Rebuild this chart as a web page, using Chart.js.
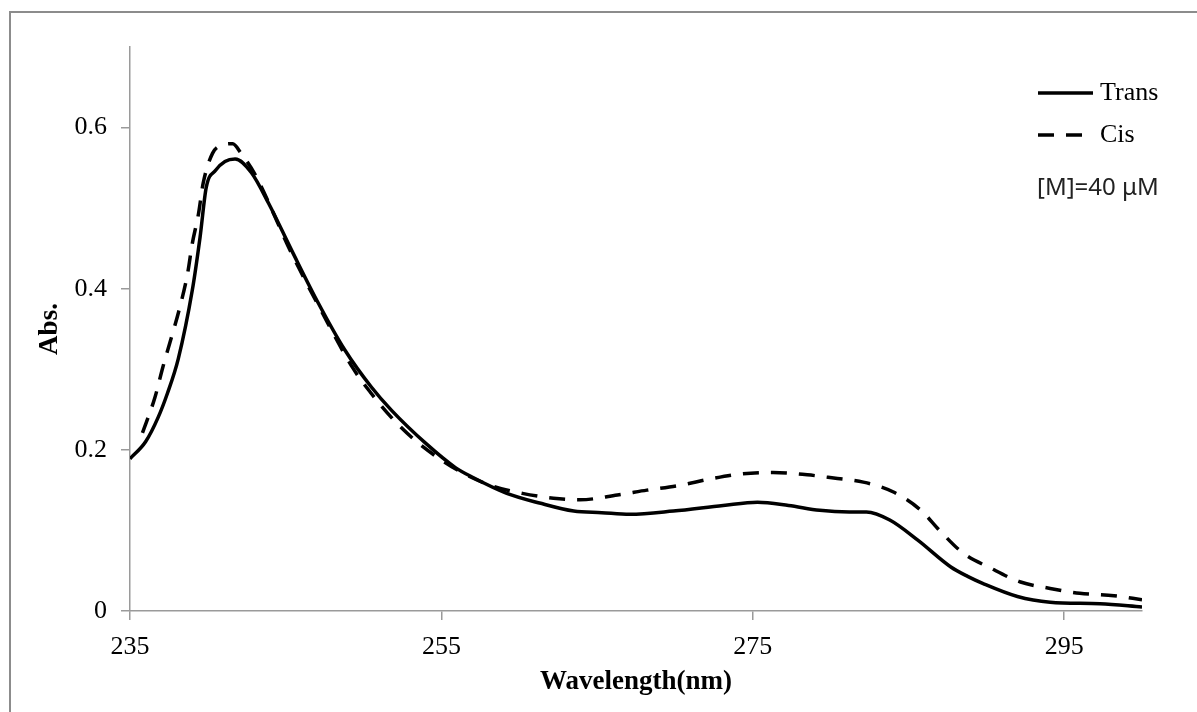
<!DOCTYPE html>
<html>
<head>
<meta charset="utf-8">
<script src="https://cdn.jsdelivr.net/npm/chart.js@4.4.1/dist/chart.umd.min.js"></script>
<style>
  html, body { margin: 0; padding: 0; background: #ffffff; }
  #wrap { width: 1197px; height: 712px; }
</style>
</head>
<body>
<div id="wrap"><canvas id="c" width="1197" height="712"></canvas></div>
<script>
// ---- data ----
const transWavelength = [235, 236, 236.8, 237.4, 238.1, 239.0, 239.5, 239.9, 240.5, 241.1, 241.75, 242.8, 243.9, 245.4, 247.1, 248.8, 250.5, 251.8, 254.0, 255.9, 257.0, 259.2, 261.3, 263.5, 265.3, 267.1, 269.9, 273.1, 275.3, 277.3, 279.3, 281.2, 282.3, 283.8, 285.6, 287.7, 288.8, 289.8, 292.0, 294.1, 297.3, 300];
const transAbs = [0.189, 0.210, 0.240, 0.270, 0.313, 0.398, 0.464, 0.526, 0.547, 0.558, 0.561, 0.544, 0.506, 0.447, 0.382, 0.324, 0.278, 0.249, 0.208, 0.178, 0.166, 0.146, 0.134, 0.124, 0.122, 0.120, 0.124, 0.131, 0.135, 0.131, 0.125, 0.123, 0.123, 0.113, 0.088, 0.055, 0.043, 0.034, 0.018, 0.011, 0.009, 0.005];

const cisWavelength = [235.8, 236.6, 237.1, 238.2, 238.7, 239.0, 239.4, 239.7, 240.3, 240.9, 241.6, 242.1, 243.0, 245.4, 247.3, 249.3, 250.5, 251.8, 253.3, 254.8, 256.4, 258.3, 260.2, 262.2, 263.9, 266.3, 268.2, 270.3, 272.3, 274.2, 276.3, 278.5, 280.2, 282.1, 284.0, 285.8, 287.0, 288.5, 290.3, 292.2, 294.1, 296.0, 298.2, 300];
const cisAbs = [0.221, 0.265, 0.302, 0.377, 0.419, 0.456, 0.493, 0.531, 0.568, 0.578, 0.580, 0.569, 0.543, 0.443, 0.372, 0.302, 0.270, 0.240, 0.212, 0.190, 0.171, 0.155, 0.146, 0.140, 0.138, 0.144, 0.150, 0.156, 0.164, 0.170, 0.172, 0.169, 0.165, 0.160, 0.148, 0.125, 0.100, 0.072, 0.053, 0.036, 0.028, 0.022, 0.019, 0.014];

const seriesLabels = ['Trans', 'Cis'];
const xTickValues = [235, 255, 275, 295];
const yTickValues = [0, 0.2, 0.4, 0.6];
const xTitle = 'Wavelength(nm)';
const yTitle = 'Abs.';
const noteText = '[M]=40 μM';

const toPoints = (xs, ys) => xs.map((x, i) => ({ x: x, y: ys[i] }));

const serif = '"Liberation Serif", "Times New Roman", serif';
const axisGray = '#9a9a9a';

const framePlugin = {
  id: 'frame',
  beforeDraw(chart) {
    const ctx = chart.ctx;
    ctx.save();
    ctx.fillStyle = '#ffffff';
    ctx.fillRect(0, 0, chart.width, chart.height);
    ctx.strokeStyle = '#8c8c8c';
    ctx.lineWidth = 2;
    ctx.beginPath();
    ctx.moveTo(10, chart.height + 5);
    ctx.lineTo(10, 12);
    ctx.lineTo(chart.width + 5, 12);
    ctx.stroke();
    ctx.restore();
  }
};

const legendPlugin = {
  id: 'customLegend',
  afterDraw(chart) {
    const ctx = chart.ctx;
    ctx.save();
    const x0 = 1038, x1 = 1093, ys = [93, 135];
    chart.data.datasets.forEach((ds, i) => {
      ctx.strokeStyle = ds.borderColor;
      ctx.lineWidth = ds.borderWidth;
      ctx.setLineDash(ds.borderDash || []);
      ctx.beginPath();
      ctx.moveTo(x0, ys[i]);
      ctx.lineTo(x1, ys[i]);
      ctx.stroke();
      ctx.setLineDash([]);
      ctx.fillStyle = '#000000';
      ctx.font = '26px ' + serif;
      ctx.textBaseline = 'middle';
      ctx.textAlign = 'left';
      ctx.fillText(ds.label, 1100, ys[i]);
    });
    ctx.fillStyle = '#222222';
    ctx.font = '24px "Noto Sans", sans-serif';
    ctx.textBaseline = 'middle';
    ctx.fillText(noteText, 1037, 188);
    ctx.restore();
  }
};

new Chart(document.getElementById('c'), {
  type: 'scatter',
  data: {
    datasets: [
      {
        label: seriesLabels[0],
        data: toPoints(transWavelength, transAbs),
        showLine: true,
        borderColor: '#000000',
        backgroundColor: '#000000',
        borderWidth: 3.5,
        pointRadius: 0,
        cubicInterpolationMode: 'monotone'
      },
      {
        label: seriesLabels[1],
        data: toPoints(cisWavelength, cisAbs),
        showLine: true,
        borderColor: '#000000',
        backgroundColor: '#000000',
        borderWidth: 3.5,
        borderDash: [16, 12],
        pointRadius: 0,
        cubicInterpolationMode: 'monotone'
      }
    ]
  },
  options: {
    responsive: false,
    animation: false,
    layout: { padding: { left: 0, top: 47, right: 55, bottom: 0 } },
    plugins: {
      legend: { display: false },
      tooltip: { enabled: false }
    },
    scales: {
      x: {
        type: 'linear',
        min: 235,
        max: 300,
        afterBuildTicks: (s) => { s.ticks = xTickValues.map(v => ({ value: v })); },
        afterFit: (s) => { s.height = 101; },
        border: { display: true, color: axisGray, width: 1.5 },
        grid: { display: true, drawOnChartArea: false, drawTicks: true, tickLength: 9, color: axisGray, lineWidth: 1.5 },
        ticks: {
          color: '#000000',
          font: { family: serif, size: 26 },
          padding: 12,
          maxRotation: 0,
          callback: (v) => String(v)
        },
        title: {
          display: true,
          text: xTitle,
          color: '#000000',
          font: { family: serif, size: 27, weight: 'bold' },
          padding: { top: 0, bottom: 14 }
        }
      },
      y: {
        type: 'linear',
        min: 0,
        max: 0.7,
        afterBuildTicks: (s) => { s.ticks = yTickValues.map(v => ({ value: v })); },
        afterFit: (s) => { s.width = 130; },
        border: { display: true, color: axisGray, width: 1.5 },
        grid: { display: true, drawOnChartArea: false, drawTicks: true, tickLength: 9, color: axisGray, lineWidth: 1.5 },
        ticks: {
          color: '#000000',
          font: { family: serif, size: 26 },
          padding: 14,
          callback: (v) => (v === 0 ? '0' : String(Math.round(v * 10) / 10))
        },
        title: {
          display: true,
          text: yTitle,
          color: '#000000',
          font: { family: serif, size: 27, weight: 'bold' },
          padding: { top: 34, bottom: 0 }
        }
      }
    }
  },
  plugins: [framePlugin, legendPlugin]
});
</script>
</body>
</html>
